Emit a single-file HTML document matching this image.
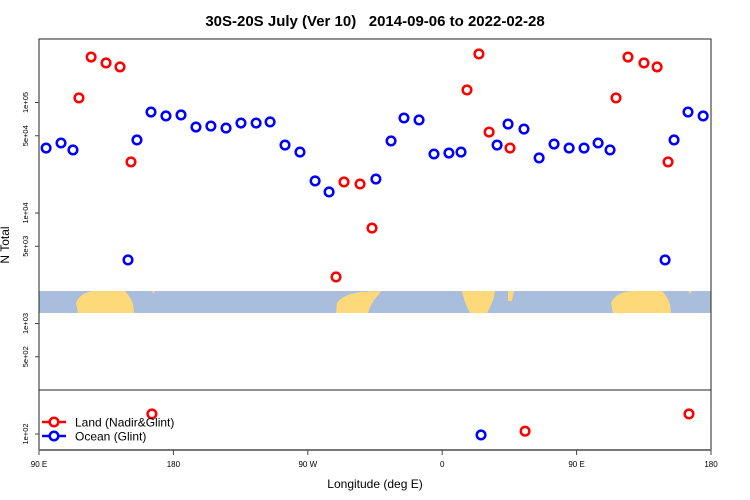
<!DOCTYPE html>
<html><head><meta charset="utf-8"><style>
body{margin:0;background:#fff}
svg{font-family:"Liberation Sans",Arial,sans-serif;display:block}
</style></head><body>
<svg id="chart" width="750" height="500" viewBox="0 0 750 500">
<text x="375" y="26" text-anchor="middle" font-size="15" font-weight="bold">30S-20S July (Ver 10)&#160;&#160; 2014-09-06 to 2022-02-28</text>
<g>
<rect x="39" y="291" width="672" height="22" fill="#a8bedc"/>
<path d="M78,313 L76,303 Q80,292 95,291 L125,291 Q130,296 133,304 L134,313 Z" fill="#fdd97a"/>
<path d="M152,291 L155,291 L153,294 Z" fill="#fdd97a"/>
<path d="M336,313 L337,303 Q342,295 360,292 L381,291 Q378,296 374,300 Q370,306 368,313 Z" fill="#fdd97a"/>
<path d="M462,291 L495,291 Q494,300 490,307 L487,313 L470,313 Q464,302 462,291 Z" fill="#fdd97a"/>
<path d="M508,291 L514,291 L512,301 L508,301 Z" fill="#fdd97a"/>
<path d="M613,313 L611,303 Q616,292 632,291 L662,291 Q667,296 670,304 L671,313 Z" fill="#fdd97a"/>
<path d="M688,291 L692,291 L690,294 Z" fill="#fdd97a"/>
</g>
<rect x="39" y="39" width="672" height="411" fill="none" stroke="#222" stroke-width="1"/>
<line x1="39" y1="390" x2="711" y2="390" stroke="#222"/>
<line x1="39" y1="450" x2="711" y2="450" stroke="#777" stroke-width="2"/>
<g id="yaxis"></g>
<g id="xaxis"></g>
<text transform="translate(9,245) rotate(-90)" text-anchor="middle" font-size="12">N Total</text>
<text x="375" y="488" text-anchor="middle" font-size="12">Longitude (deg E)</text>
<g id="points"></g>
<g>
<g>
<line x1="42" y1="422" x2="66" y2="422" stroke="#f00" stroke-width="2.5"/>
<circle cx="54" cy="422" r="4.3" fill="#fff" stroke="#f00" stroke-width="2.5"/>
<text x="75" y="426.5" font-size="12">Land (Nadir&amp;Glint)</text></g>
<g>
<line x1="42" y1="436" x2="66" y2="436" stroke="#00f" stroke-width="2.5"/>
<circle cx="54" cy="436" r="4.3" fill="#fff" stroke="#00f" stroke-width="2.5"/>
<text x="75" y="440.5" font-size="12">Ocean (Glint)</text></g>
</g>
</svg>
<script>
const landLon=[116.75,124.9,134.9,144.25,151.6,165.6,288.9,294.25,305,313,376.6,384.6,391.4,405.4,415.5,476.4,484.4,495.1,503.9,511.25,525.25];
const landVal=[110000,258000,228000,210000,29000,152,2640,19100,18300,7300,130000,275000,54000,38700,106,110000,258000,228000,210000,29000,152];
const oceanLon=[94.75,104.75,112.75,149.6,155.6,165,175,185.1,195.1,205.1,215.25,225.25,235.4,244.75,254.75,264.75,274.9,284.25,315.6,325.75,334.4,344.5,354.5,364.5,372.6,386,396.75,404.1,414.75,424.9,434.9,445,455,464.4,472.4,509.25,515.25,524.6,534.75];
const oceanVal=[38700,43000,37200,3760,45800,82000,75500,77100,60000,61200,58700,65200,65200,66700,41200,35600,19500,15500,20300,44900,72400,69500,34200,34900,35600,98,41200,63800,57500,31500,42100,38700,38700,43000,37200,3760,45800,82000,75500];
const yTicks=[100000,50000,10000,5000,1000,500,100];
const yTickLabels=["1e+05","5e+04","1e+04","5e+03","1e+03","5e+02","1e+02"];
const xTicks=[90,180,270,360,450,540];
const xTickLabels=["90 E","180","90 W","0","90 E","180"];
const NS="http://www.w3.org/2000/svg";
function X(lon){return 39+(lon-90)*672/450;}
function Y(v){return 102.5+(5-Math.log10(v))*110.5;}
function mk(t,a){const e=document.createElementNS(NS,t);for(const k in a)e.setAttribute(k,a[k]);return e;}
const ya=document.getElementById('yaxis');
yTicks.forEach((v,i)=>{const y=Y(v);
 const l=mk('line',{x1:35,x2:39,y1:y,y2:y,stroke:'#444'});
 
 
 ya.appendChild(l);
 const t=mk('text',{transform:`translate(28,${y}) rotate(-90)`,'text-anchor':'middle','font-size':'7.5'});
 t.textContent=yTickLabels[i];
 
 
 ya.appendChild(t);});
const xa=document.getElementById('xaxis');
xTicks.forEach((v,i)=>{const x=X(v);
 const l=mk('line',{x1:x,x2:x,y1:450,y2:455,stroke:'#444'});
 
 
 xa.appendChild(l);
 const t=mk('text',{x:x,y:467,'text-anchor':'middle','font-size':'8'});
 t.textContent=xTickLabels[i];
 
 
 xa.appendChild(t);});
const pg=document.getElementById('points');
function series(lons,vals,col,name){lons.forEach((lon,i)=>{
 const c=mk('circle',{cx:X(lon),cy:Y(vals[i]),r:4.3,fill:'#fff',stroke:col,'stroke-width':2.5});
 
 
 pg.appendChild(c);});}
series(landLon,landVal,'#f00','land-point');
series(oceanLon,oceanVal,'#00f','ocean-point');
</script>
</body></html>
